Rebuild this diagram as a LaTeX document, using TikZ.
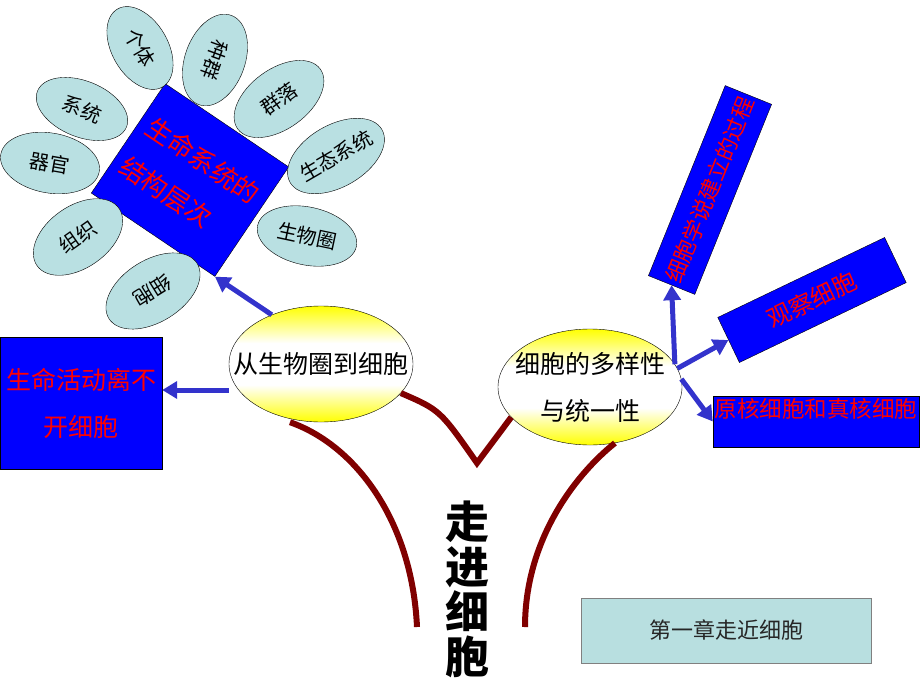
\documentclass[tikz,border=0pt]{standalone}
\usepackage{fontspec}
\newfontfamily\cjk{Noto Sans CJK SC}
\usetikzlibrary{shapes.geometric,arrows.meta}
\definecolor{petalfill}{RGB}{185,224,226}
\definecolor{linkblue}{RGB}{51,51,204}
\definecolor{stemred}{RGB}{128,0,0}
\definecolor{chapterfill}{RGB}{184,223,224}
\pgfdeclareverticalshading{topicshade}{100bp}{color(0bp)=(yellow); color(25bp)=(yellow);
  color(41bp)=(white); color(59bp)=(white); color(75bp)=(yellow); color(100bp)=(yellow)}
\tikzset{
  petal/.style={ellipse, draw=black, fill=petalfill, inner xsep=-5pt, inner ysep=0pt,
    font=\cjk\fontsize{20pt}{24pt}\selectfont},
  bluebox/.style={draw=black, fill=blue, text=red, inner sep=0pt,
    font=\cjk\fontsize{25pt}{47pt}\selectfont},
  topic/.style={ellipse, draw=black, shading=topicshade, minimum width=184pt, minimum height=116pt,
    inner xsep=-23pt, inner ysep=0pt, align=center, font=\cjk\fontsize{25pt}{47pt}\selectfont},
  link/.style={linkblue, line width=5pt, -{Triangle[length=15pt,width=17pt]}},
  stemline/.style={stemred, line width=6pt}
}
\begin{document}
\begin{tikzpicture}[x=1pt,y=-1pt]
    \useasboundingbox (0,0) rectangle (920,690);
    % levels of living systems
    \node[bluebox, minimum width=149pt, minimum height=132pt, rotate=-34, align=left,
        font=\cjk\fontsize{26pt}{47pt}\selectfont] (levels) at (190,180) {生命系统的\\结构层次};
    \node[petal, minimum width=90pt, minimum height=56pt, rotate=-60] (individual) at (140,48) {个体};
    \node[petal, minimum width=95pt, minimum height=60pt, rotate=-110] (population) at (215,60) {种群};
    \node[petal, minimum width=102pt, minimum height=60pt, rotate=36] (community) at (279,99) {群落};
    \node[petal, minimum width=106pt, minimum height=62pt, rotate=30] (ecosystem) at (336,156) {生态系统};
    \node[petal, minimum width=101pt, minimum height=58pt, rotate=-12] (biosphere) at (307,236) {生物圈};
    \node[petal, minimum width=104pt, minimum height=62pt, rotate=212] (cellpetal) at (153,291) {细胞};
    \node[petal, minimum width=100pt, minimum height=62pt, rotate=35] (tissue) at (78,237) {组织};
    \node[petal, minimum width=100pt, minimum height=60pt, rotate=-10] (organ) at (50,163) {器官};
    \node[petal, minimum width=96pt, minimum height=56pt, rotate=-22] (system) at (82,109) {系统};
    % the two topics
    \node[topic] (bio) at (321,364) {从生物圈到细胞};
    \node[topic] (cell) at (590,387) {细胞的多样性\\与统一性};
    % boxes
    \node[bluebox, minimum width=162pt, minimum height=132pt, align=center] (life) at (81,403) {生命活动离不\\开细胞};
    \node[bluebox, minimum width=205pt, minimum height=50pt, rotate=68,
        font=\cjk\fontsize{22pt}{24pt}\selectfont] (theory) at (710,190) {细胞学说建立的过程};
    \node[bluebox, minimum width=185pt, minimum height=50pt, rotate=25.6,
        font=\cjk\fontsize{24pt}{26pt}\selectfont] (observe) at (812,300) {观察细胞};
    \node[bluebox, minimum width=206pt, minimum height=51pt, text depth=27pt,
        font=\cjk\fontsize{22.5pt}{26pt}\selectfont] (kinds) at (816,421.5) {原核细胞和真核细胞};
    \node[draw=gray, fill=chapterfill, minimum width=290pt, minimum height=65pt, text=black!85,
        font=\cjk\fontsize{22pt}{26pt}\selectfont] (chapter) at (726,630.5) {第一章走近细胞};
    \node[align=center, font=\cjk\bfseries\fontsize{44pt}{45pt}\selectfont] (title) at (467,589) {走\\进\\细\\胞};
    % stems
    \coordinate (lefttip) at (417,627);
    \coordinate (vtip) at (477,463);
    \coordinate (righttip) at (525,627);
    \draw[stemline] ([xshift=-31pt]bio.south) .. controls (355,445) and (412,520) .. (lefttip);
    \draw[stemline, line join=miter] (bio.-20) .. controls (440,410) .. (vtip) -- (cell.201);
    \draw[stemline] (cell.-66) .. controls (575,475) and (525,540) .. (righttip);
    % arrows
    \draw[link] (bio.135) -- (levels.south east);
    \draw[link] ([yshift=-26pt]bio.west) -- ([yshift=13pt]life.east);
    \draw[link] (cell.15) -- (theory.west);
    \draw[link] (cell.12) -- (observe.west);
    \draw[link] (cell.5) -- (kinds.west);
\end{tikzpicture}
\end{document}
